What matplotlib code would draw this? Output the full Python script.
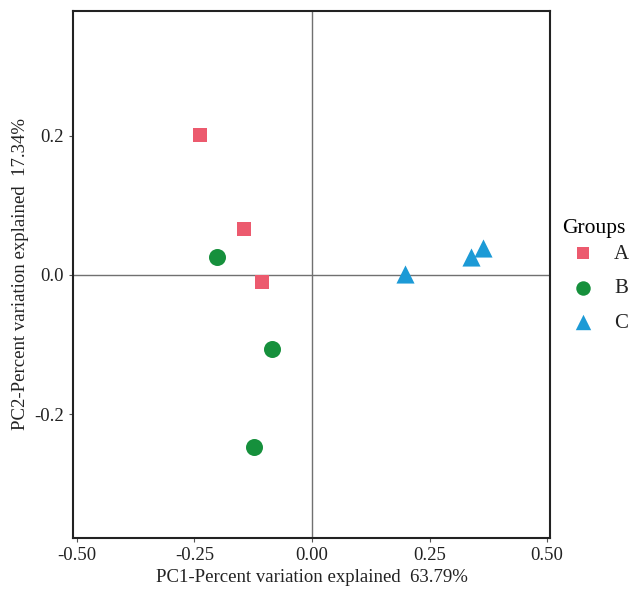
import numpy as np
import matplotlib.pyplot as plt

plt.rcParams['font.family'] = ['Liberation Serif', 'DejaVu Serif']

# PCA scores
groups = ['A', 'B', 'C']
pc1_A = [-0.238, -0.145, -0.106]
pc2_A = [0.201, 0.066, -0.010]
pc1_B = [-0.202, -0.085, -0.123]
pc2_B = [0.026, -0.106, -0.247]
pc1_C = [0.198, 0.338, 0.364]
pc2_C = [0.002, 0.026, 0.039]

xticks = [-0.50, -0.25, 0.00, 0.25, 0.50]
yticks = [-0.2, 0.0, 0.2]

fig = plt.figure(figsize=(6.35, 5.95), dpi=100)
ax = fig.add_axes([0.115, 0.096, 0.751, 0.886])

ax.axhline(0, color='#707070', lw=1.0, zorder=1)
ax.axvline(0, color='#707070', lw=1.0, zorder=1)

ax.scatter(pc1_A, pc2_A, marker='s', s=110, color='#EC5A6E', label='A', zorder=3, linewidths=0)
ax.scatter(pc1_B, pc2_B, marker='o', s=150, color='#16903C', label='B', zorder=3, linewidths=0)
ax.scatter(pc1_C, pc2_C, marker='^', s=170, color='#1C9AD6', label='C', zorder=3, linewidths=0)

ax.set_xlim(-0.508, 0.506)
ax.set_ylim(-0.377, 0.379)
ax.set_xticks(xticks)
ax.set_xticklabels(['%.2f' % v for v in xticks])
ax.set_yticks(yticks)
ax.set_yticklabels(['%.1f' % v for v in yticks])
ax.tick_params(labelsize=13.5, length=3, color='#555555', labelcolor='#222222')

for s in ax.spines.values():
    s.set_linewidth(1.5)
    s.set_color('#222222')

ax.set_xlabel('PC1-Percent variation explained  63.79%', fontsize=13.5, color='#222222', labelpad=4)
ax.set_ylabel('PC2-Percent variation explained  17.34%', fontsize=13.5, color='#222222', labelpad=4)

leg = fig.legend(loc='center left', bbox_to_anchor=(0.862, 0.536), frameon=False,
                 title='Groups', fontsize=15, title_fontsize=15.5,
                 handletextpad=0.5, labelspacing=0.72, markerscale=0.85, alignment='left',
                 borderaxespad=0.3)
leg._legend_box.sep = 4
for t in leg.get_texts():
    t.set_color('#222222')

fig.savefig('out.png', dpi=100)
